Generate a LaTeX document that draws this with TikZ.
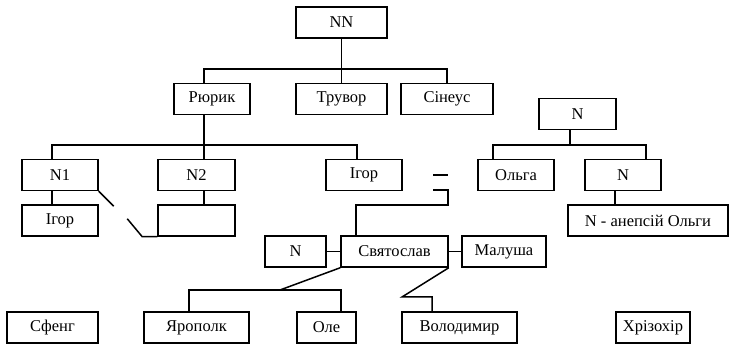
\documentclass[tikz,border=0pt]{standalone}
\usepackage{fontspec}
\setmainfont{Liberation Serif}
\tikzset{famnode/.style={draw,line width=1.5pt,minimum height=31pt,inner sep=0pt,font=\fontsize{16.5pt}{18pt}\selectfont}}
\begin{document}
\begin{tikzpicture}[x=1pt,y=-1pt,line width=1.5pt]
\useasboundingbox (0,0) rectangle (729,344);
\node[famnode,minimum width=91pt] (nn) at (341.5,22.5) {NN};
\node[famnode,minimum width=76pt] (rjuryk) at (212,99) {Рюрик};
\node[famnode,minimum width=91pt] (truvor) at (341.5,99) {Трувор};
\node[famnode,minimum width=92pt] (sineus) at (447,99) {Сінеус};
\node[famnode,minimum width=76pt] (n1) at (60,175) {N1};
\node[famnode,minimum width=77pt] (n2) at (196.5,175) {N2};
\node[famnode,minimum width=76pt] (igor) at (364,175) {Ігор};
\node[famnode,minimum width=76pt] (igorb) at (60,220.5) {Ігор};
\node[famnode,minimum width=77pt] (nempty) at (196.5,220.5) {};
\node[famnode,minimum width=107pt] (svyat) at (394.5,251.5) {Святослав};
\node[famnode,minimum width=61pt] (nleft) at (295.5,251.5) {N};
\node[famnode,minimum width=84pt] (malusha) at (504,251.5) {Малуша};
\node[famnode,minimum width=91pt] (sfeng) at (52.5,327.5) {Сфенг};
\node[famnode,minimum width=105pt] (yaropolk) at (196.5,327.5) {Ярополк};
\node[famnode,minimum width=59pt] (ole) at (326.5,327.5) {Оле};
\node[famnode,minimum width=115pt] (volod) at (459.5,327.5) {Володимир};
\node[famnode,minimum width=74pt] (khriz) at (653,327.5) {Хрізохір};
\node[famnode,minimum width=77pt] (ntop) at (577.5,114) {N};
\node[famnode,minimum width=76pt] (olga) at (516,175) {Ольга};
\node[famnode,minimum width=76pt] (nmid) at (623,175) {N};
\node[famnode,minimum width=160pt] (anepsiy) at (648,220.5) {N - анепсій Ольги};

\coordinate (j1) at (341.5,69);
\coordinate (j2) at (204,145);
\coordinate (j3) at (280,290);
\coordinate (j4) at (570,145);
\draw (nn.south) -- (truvor.north);
\draw ([xshift=-8pt]rjuryk.north) |- (j1) -| (sineus.north);
\draw ([xshift=-8pt]rjuryk.south) -- ([xshift=7.5pt]n2.north);
\draw ([xshift=-8pt]n1.north) |- (j2) -| ([xshift=-7pt]igor.north);
\draw ([xshift=-8pt]n1.south) -- ([xshift=-8pt]igorb.north);
\draw ([xshift=7.5pt]n2.south) -- ([xshift=7.5pt]nempty.north);
\draw (n1.south east) -- ++(15,15);
\draw (nempty.south west) -- ++(-15,0) -- ++(-15,-18);
\draw (433,175) -- (448,175);
\draw (433,190) -| (448,205) -| ([xshift=-38.5pt]svyat.north);
\draw (nleft.east) -- (svyat.west);
\draw (svyat.east) -- (malusha.west);
\draw (svyat.south west) -- (j3);
\draw ([xshift=-7.5pt]yaropolk.north) |- (j3) -| ([xshift=14.5pt]ole.north);
\draw (svyat.south east) -- (402,297) -| ([xshift=-27.5pt]volod.north);
\draw ([xshift=-7.5pt]ntop.south) -- (j4);
\draw ([xshift=-23pt]olga.north) |- (j4) -| ([xshift=23pt]nmid.north);
\draw ([xshift=-8pt]nmid.south) -- ([xshift=-33pt]anepsiy.north);
\end{tikzpicture}
\end{document}
